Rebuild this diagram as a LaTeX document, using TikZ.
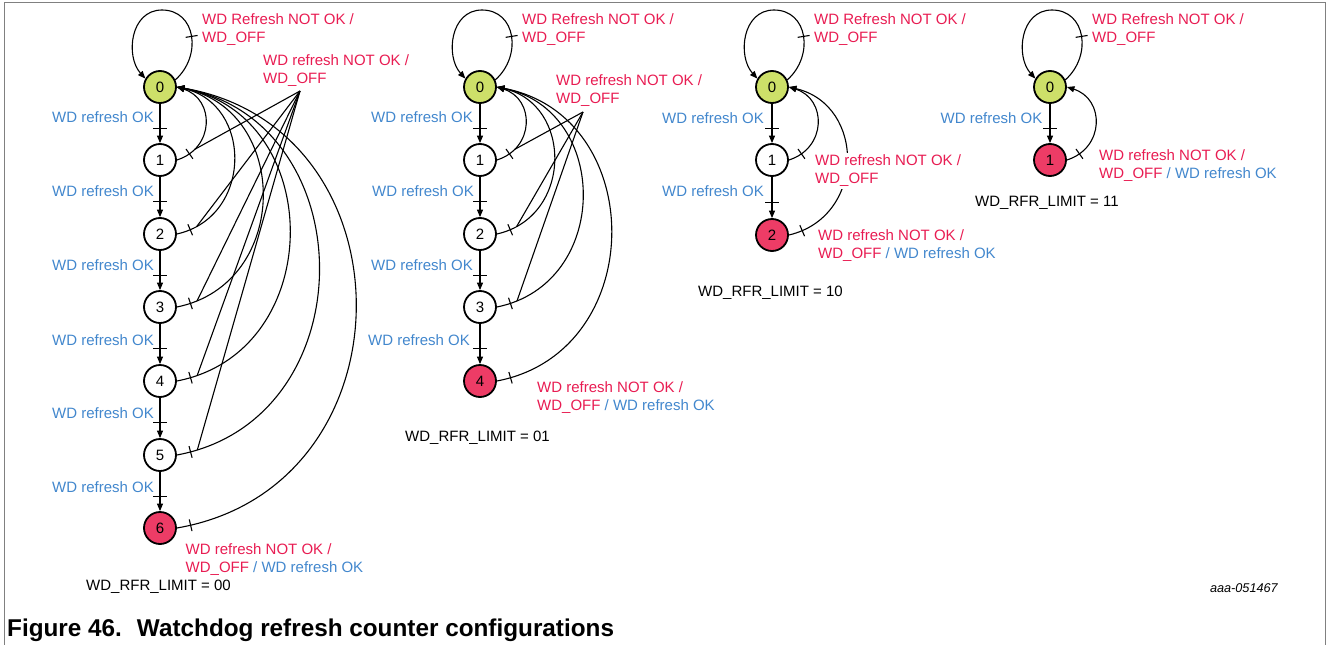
\documentclass[tikz,border=0pt]{standalone}
\usepackage{fontspec}
\setmainfont{Liberation Sans}
\usetikzlibrary{arrows.meta,decorations.markings}
\definecolor{wdred}{RGB}{232,28,82}
\definecolor{wdblue}{RGB}{66,135,205}
\definecolor{wdgreen}{RGB}{205,224,105}
\definecolor{wdpink}{RGB}{237,60,102}
\definecolor{framegray}{RGB}{128,128,128}
\begin{document}
\begin{tikzpicture}[x=1pt,y=-1pt,
 every node/.style={font=\fontsize{15}{18}\selectfont},
 state/.style={circle,draw=black,line width=1.8pt,minimum size=32pt,inner sep=0pt,fill=white},
 startstate/.style={state,fill=wdgreen},
 endstate/.style={state,fill=wdpink},
 tip/.style={-{Triangle[length=7.5pt,width=6pt]}},
 trans/.style={line width=1.1pt,tip,postaction={decorate},
   decoration={markings,mark=at position 0.62 with {\draw[-,line width=1.1pt] (0,-7pt)--(0,7pt);}}},
 ret/.style={line width=1.1pt,tip,postaction={decorate},
   decoration={markings,mark=at position 14pt with {\draw[-,line width=1.1pt] (0,-6pt)--(0,6pt);},mark=at position 21pt with {\coordinate (#1);}}},
 selfloop/.style={line width=1.1pt,tip,postaction={decorate},
   decoration={markings,mark=at position 0.27 with {\draw[-,line width=1.1pt] (0,-6pt)--(0,6pt);}}},
 fanline/.style={line width=1.1pt},
 redlbl/.style={text=wdred,inner sep=0pt,align=left,anchor=north west},
 oklbl/.style={text=wdblue,inner sep=0pt,anchor=east},
 limit/.style={text=black,inner sep=0pt,anchor=west},
]
\useasboundingbox (0,0) rectangle (1328,645);
% frame
\draw[framegray,line width=1.6pt] (4.5,645) -- (4.5,2.5) -- (1325.5,2.5) -- (1325.5,645);

% ---------------- Diagram 1 (WD_RFR_LIMIT = 00)
\node[startstate] (a0) at (160,87) {0};
\node[state] (a1) at (160,160) {1};
\node[state] (a2) at (160,234) {2};
\node[state] (a3) at (160,307) {3};
\node[state] (a4) at (160,381) {4};
\node[state] (a5) at (160,455) {5};
\node[endstate] (a6) at (160,528) {6};
\coordinate (a0top) at ([xshift=2pt,yshift=77pt]a0.center);
\draw[selfloop] (a0.25) .. controls +(27,-24) and +(34,0) .. (a0top) .. controls +(-32,0) and +(-20,-22) .. (a0.150);
\draw[trans] (a0) -- (a1);
\draw[trans] (a1) -- (a2);
\draw[trans] (a2) -- (a3);
\draw[trans] (a3) -- (a4);
\draw[trans] (a4) -- (a5);
\draw[trans] (a5) -- (a6);
\draw[ret=fa1] (a1.east) .. controls +(38,-12) and +(38,12) .. (a0.east);
\draw[ret=fa2] (a2.east) .. controls +(76,-17) and +(76,17) .. (a0.east);
\draw[ret=fa3] (a3.east) .. controls +(114,-23) and +(114,23) .. (a0.east);
\draw[ret=fa4] (a4.east) .. controls +(150,-29) and +(150,29) .. (a0.east);
\draw[ret=fa5] (a5.east) .. controls +(189,-35) and +(189,35) .. (a0.east);
\draw[ret=fa6] (a6.east) .. controls +(238,-41) and +(238,41) .. (a0.east);
\coordinate (fanA) at (300,91);
\foreach \k in {1,...,5} \draw[fanline] (fanA) -- (fa\k);
\node[redlbl] (a0loop) at (202,13.5) {WD Refresh NOT OK /\\WD\_OFF};
\node[redlbl] (afan) at (263,54.5) {WD refresh NOT OK /\\WD\_OFF};
\node[redlbl] (a6lbl) at (185.5,543.5) {WD refresh NOT OK /\\WD\_OFF {\color{wdblue}/ WD refresh OK}};
\node[oklbl] (ok01) at (154,117) {WD refresh OK};
\node[oklbl] (ok12) at (154,191) {WD refresh OK};
\node[oklbl] (ok23) at (154,265) {WD refresh OK};
\node[oklbl] (ok34) at (154,340) {WD refresh OK};
\node[oklbl] (ok45) at (154,413) {WD refresh OK};
\node[oklbl] (ok56) at (154,487) {WD refresh OK};
\node[limit] (limA) at (86,587) {WD\_RFR\_LIMIT = 00};

% ---------------- Diagram 2 (WD_RFR_LIMIT = 01)
\node[startstate] (b0) at (480,87) {0};
\node[state] (b1) at (480,160) {1};
\node[state] (b2) at (480,234) {2};
\node[state] (b3) at (480,307) {3};
\node[endstate] (b4) at (480,381) {4};
\coordinate (b0top) at ([xshift=2pt,yshift=77pt]b0.center);
\draw[selfloop] (b0.25) .. controls +(27,-24) and +(34,0) .. (b0top) .. controls +(-32,0) and +(-20,-22) .. (b0.150);
\draw[trans] (b0) -- (b1);
\draw[trans] (b1) -- (b2);
\draw[trans] (b2) -- (b3);
\draw[trans] (b3) -- (b4);
\draw[ret=fb1] (b1.east) .. controls +(38,-12) and +(38,12) .. (b0.east);
\draw[ret=fb2] (b2.east) .. controls +(76,-17) and +(76,17) .. (b0.east);
\draw[ret=fb3] (b3.east) .. controls +(114,-23) and +(114,23) .. (b0.east);
\draw[ret=fb4] (b4.east) .. controls +(152,-29) and +(152,29) .. (b0.east);
\coordinate (fanB) at (583,112);
\foreach \k in {1,...,3} \draw[fanline] (fanB) -- (fb\k);
\node[redlbl] (b0loop) at (522,13.5) {WD Refresh NOT OK /\\WD\_OFF};
\node[redlbl] (bfan) at (556,74.5) {WD refresh NOT OK /\\WD\_OFF};
\node[redlbl] (b4lbl) at (537,381) {WD refresh NOT OK /\\WD\_OFF {\color{wdblue}/ WD refresh OK}};
\node[oklbl] (okb01) at (473,117) {WD refresh OK};
\node[oklbl] (okb12) at (474,191) {WD refresh OK};
\node[oklbl] (okb23) at (473,265) {WD refresh OK};
\node[oklbl] (okb34) at (470,340) {WD refresh OK};
\node[limit] (limB) at (405,437.5) {WD\_RFR\_LIMIT = 01};

% ---------------- Diagram 3 (WD_RFR_LIMIT = 10)
\node[startstate] (c0) at (772,87) {0};
\node[state] (c1) at (772,160) {1};
\node[endstate] (c2) at (772,235) {2};
\coordinate (c0top) at ([xshift=2pt,yshift=77pt]c0.center);
\draw[selfloop] (c0.25) .. controls +(27,-24) and +(34,0) .. (c0top) .. controls +(-32,0) and +(-20,-22) .. (c0.150);
\draw[trans] (c0) -- (c1);
\draw[trans] (c1) -- (c2);
\draw[ret=fc1] (c1.east) .. controls +(38,-12) and +(38,12) .. (c0.east);
\draw[ret=fc2] (c2.east) .. controls +(77,-18) and +(77,18) .. (c0.east);
\node[redlbl] (c0loop) at (814,13.5) {WD Refresh NOT OK /\\WD\_OFF};
\node[redlbl,fill=white,inner sep=2pt] (c1lbl) at (813,152.5) {WD refresh NOT OK /\\WD\_OFF};
\node[redlbl] (c2lbl) at (818,229.5) {WD refresh NOT OK /\\WD\_OFF {\color{wdblue}/ WD refresh OK}};
\node[oklbl] (okc01) at (764,118) {WD refresh OK};
\node[oklbl] (okc12) at (764,191.5) {WD refresh OK};
\node[limit] (limC) at (698,292.5) {WD\_RFR\_LIMIT = 10};

% ---------------- Diagram 4 (WD_RFR_LIMIT = 11)
\node[startstate] (d0) at (1050,87) {0};
\node[endstate] (d1) at (1050,160) {1};
\coordinate (d0top) at ([xshift=2pt,yshift=77pt]d0.center);
\draw[selfloop] (d0.25) .. controls +(27,-24) and +(34,0) .. (d0top) .. controls +(-32,0) and +(-20,-22) .. (d0.150);
\draw[trans] (d0) -- (d1);
\draw[ret=fd1] (d1.east) .. controls +(38,-12) and +(38,12) .. (d0.east);
\node[redlbl] (d0loop) at (1092,13.5) {WD Refresh NOT OK /\\WD\_OFF};
\node[redlbl] (d1lbl) at (1099,149.5) {WD refresh NOT OK /\\WD\_OFF {\color{wdblue}/ WD refresh OK}};
\node[oklbl] (okd01) at (1042.5,118) {WD refresh OK};
\node[limit] (limD) at (975,202.5) {WD\_RFR\_LIMIT = 11};

% ---------------- id and caption
\node[inner sep=0pt,anchor=east,font=\fontsize{12.7}{15}\selectfont\itshape] (figid) at (1278,588) {aaa-051467};
\node[inner sep=0pt,anchor=west,font=\fontsize{24.3}{28}\selectfont\bfseries] (caption) at (7,630) {Figure 46.\hspace{15pt}Watchdog refresh counter configurations};
\end{tikzpicture}
\end{document}
